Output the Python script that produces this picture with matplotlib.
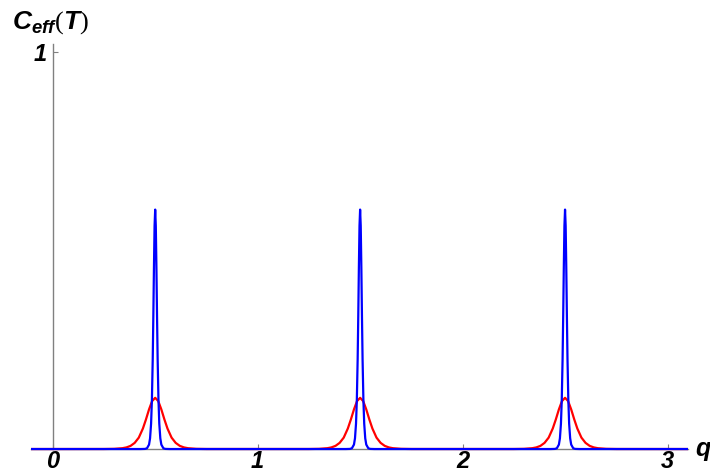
import matplotlib
matplotlib.use("Agg")
import matplotlib.pyplot as plt
import numpy as np

# ---- data ----
peak_centers = [0.5, 1.5, 2.5]

red_offsets = [-0.25, -0.20, -0.16, -0.14, -0.12, -0.10, -0.08, -0.06, -0.045, -0.03, -0.015, 0.0,
               0.015, 0.03, 0.045, 0.06, 0.08, 0.10, 0.12, 0.14, 0.16, 0.20, 0.25]
red_values = [0.0001, 0.0005, 0.0021, 0.0041, 0.0080, 0.0155, 0.0287, 0.0516, 0.0745, 0.0998, 0.1207, 0.129,
              0.1207, 0.0998, 0.0745, 0.0516, 0.0287, 0.0155, 0.0080, 0.0041, 0.0021, 0.0005, 0.0001]

blue_offsets = [-0.07, -0.05, -0.04, -0.03, -0.025, -0.02, -0.016, -0.012, -0.009, -0.006, -0.003, 0.0,
                0.003, 0.006, 0.009, 0.012, 0.016, 0.02, 0.025, 0.03, 0.04, 0.05, 0.07]
blue_values = [0.0, 0.0003, 0.0019, 0.0112, 0.027, 0.064, 0.124, 0.226, 0.336, 0.458, 0.562, 0.603,
               0.562, 0.458, 0.336, 0.226, 0.124, 0.064, 0.027, 0.0112, 0.0019, 0.0003, 0.0]

q_range = [-0.106, 3.1]
x_ticks = [0, 1, 2, 3]
x_ticklabels = ["0", "1", "2", "3"]
y_ticks = [1]
y_ticklabels = ["1"]


def build(offsets, values):
    xs = [q_range[0]]
    ys = [0.0]
    for c in peak_centers:
        xs += [c + o for o in offsets]
        ys += list(values)
    xs.append(q_range[1])
    ys.append(0.0)
    return np.array(xs), np.array(ys)


plt.rcParams["mathtext.fontset"] = "custom"
plt.rcParams["mathtext.it"] = "Liberation Sans:bold:italic"
plt.rcParams["mathtext.bf"] = "Liberation Sans:bold:italic"
plt.rcParams["mathtext.rm"] = "Liberation Serif"

fig = plt.figure(figsize=(7.1, 4.75), dpi=100)
W, H = 710, 475
# pixel geometry: x from 31 to 688; y=1.02 at 44 px, y=-0.01 at 453 px
ax = fig.add_axes([31 / W, (H - 453) / H, (688 - 31) / W, (453 - 44) / H])
ax.set_xlim(q_range[0], q_range[1])
ax.set_ylim(-0.01, 1.02)

rx, ry = build(red_offsets, red_values)
bx, by = build(blue_offsets, blue_values)
ax.plot(rx, ry, color="#ff0000", lw=1.6, solid_joinstyle="round", zorder=3)
ax.plot(bx, by, color="#0000ff", lw=1.6, solid_joinstyle="round", zorder=4)

for s in ["top", "right"]:
    ax.spines[s].set_visible(False)
ax.spines["left"].set_position(("data", 0))
ax.spines["bottom"].set_position(("data", 0))
ax.spines["left"].set_bounds(0, 1.02)
for s in ["left", "bottom"]:
    ax.spines[s].set_color("#808080")
    ax.spines[s].set_linewidth(1.0)

tickfont = dict(family="Liberation Sans", weight="bold", style="italic", size=17)
ax.set_xticks(x_ticks)
ax.set_xticklabels(x_ticklabels, fontdict=tickfont)
ax.set_yticks(y_ticks)
ax.set_yticklabels(y_ticklabels, fontdict=tickfont)
ax.tick_params(axis="both", direction="in", length=3.5, width=0.8, color="#808080")
ax.tick_params(axis="x", pad=1.0)
ax.tick_params(axis="y", pad=4)
ax.patch.set_visible(False)

fig.text(12 / W, 1 - 9 / H, r"$C_{eff}(T)$", fontsize=19, va="top", ha="left")
fig.text(695 / W, 1 - 456 / H, "q", fontsize=18, family="Liberation Sans",
         weight="bold", style="italic", va="baseline", ha="left")

fig.savefig("out.png", dpi=100)
